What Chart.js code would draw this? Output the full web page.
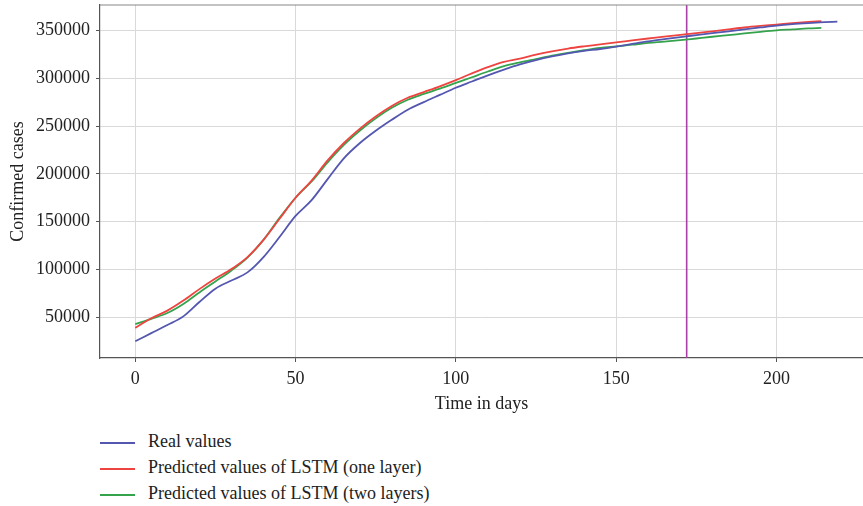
<!DOCTYPE html>
<html>
<head>
<meta charset="utf-8">
<script src="https://cdn.jsdelivr.net/npm/chart.js@4"></script>
<style>
  body { margin: 0; background: #fff; }
  #wrap { position: relative; width: 863px; height: 506px; }
  #legend { position: absolute; left: 100px; top: 428px; font-family: "Liberation Serif", serif; font-size: 18px; color: #222; }
  .row { height: 26px; line-height: 26px; white-space: nowrap; }
  .swatch { display: inline-block; width: 35px; height: 2px; vertical-align: middle; margin-right: 13px; }
</style>
</head>
<body>
<div id="wrap">
  <canvas id="Cnvs" width="863" height="420"></canvas>
  <div id="legend"></div>
</div>
<script>
var realDays = [0,5,10,15,20,25,30,35,40,45,50,55,60,65,70,75,80,85,90,95,100,105,110,115,120,125,130,135,140,145,150,155,160,165,170,175,180,185,190,195,200,205,210,215,219];
var realValues = [25000,33500,42000,51000,66000,80000,88500,97000,113000,134000,156000,172500,194500,216000,232000,245000,256500,267000,275000,282500,290000,296500,303000,309000,314500,319000,322800,326000,328500,330500,333000,335800,338500,340800,343000,345000,347000,349000,351000,353000,355000,356500,357600,358500,359200];

var predDays = [0,5,10,15,20,25,30,35,40,45,50,55,60,65,70,75,80,85,90,95,100,105,110,115,120,125,130,135,140,145,150,155,160,165,170,175,180,185,190,195,200,205,210,214];
var oneLayer = [39000,49000,57000,67500,79500,90500,100500,113000,131000,153000,175000,193000,214000,232000,247000,260000,271000,279500,285500,291500,298000,305000,311500,317000,320500,324500,328000,331000,333300,335300,337500,339500,341500,343500,345200,347000,349000,351000,353000,354600,356000,357500,358800,359600];
var twoLayers = [43000,48500,54500,64000,76000,87500,99000,112500,131000,154000,175000,192000,212000,230000,245000,258000,269000,277500,283500,289000,295000,301000,307000,312500,316500,320000,323500,326500,329200,331600,333300,335000,336800,338200,339700,341500,343300,345000,346800,348500,350000,351000,352000,352500];

var labels = ['Real values', 'Predicted values of LSTM (one layer)', 'Predicted values of LSTM (two layers)'];
var colors = ['#5457b0', '#ee4440', '#35a34c'];
var splitDay = 172;
var xTicks = [0, 50, 100, 150, 200];
var yTicks = [50000, 100000, 150000, 200000, 250000, 300000, 350000];

var yMin = 7500, yMax = 376500;

function pts(xs, ys) {
  return xs.map(function(x, i) { return {x: x, y: ys[i]}; });
}

var tickFont = {family: '"Liberation Serif", serif', size: 18};

var option = {
  responsive: false,
  animation: false,
  layout: {padding: {top: 5, right: 0, left: 0, bottom: 0}},
  plugins: {legend: {display: false}, tooltip: {enabled: false}},
  elements: {point: {radius: 0}},
  scales: {
    x: {
      type: 'linear', min: -11, max: 227,
      afterFit: function(s) { s.height = 62; s.paddingLeft = 0; s.paddingRight = 0; },
      afterBuildTicks: function(s) { s.ticks = xTicks.map(function(v) { return {value: v}; }); },
      ticks: {font: tickFont, color: '#222', padding: 6, maxRotation: 0, callback: function(v) { return String(v); }},
      grid: {color: '#d9d9d9', lineWidth: 1, tickLength: 4, tickColor: '#555'},
      border: {color: '#555', width: 1.2},
      title: {display: true, text: 'Time in days', font: tickFont, color: '#222', padding: {top: 0, bottom: 5}}
    },
    y: {
      type: 'linear', min: yMin, max: yMax,
      afterFit: function(s) { s.width = 100; s.paddingTop = 0; s.paddingBottom = 0; },
      afterBuildTicks: function(s) { s.ticks = yTicks.map(function(v) { return {value: v}; }); },
      ticks: {font: tickFont, color: '#222', padding: 6, callback: function(v) { return String(v); }},
      grid: {color: '#d9d9d9', lineWidth: 1, tickLength: 4, tickColor: '#555'},
      border: {color: '#555', width: 1.2},
      title: {display: true, text: 'Confirmed cases', font: tickFont, color: '#222', padding: {top: 7, bottom: 0}}
    }
  }
};

var topBorder = {
  id: 'topBorder',
  afterDraw: function(chart) {
    var c = chart.ctx, a = chart.chartArea;
    c.save();
    c.strokeStyle = '#888';
    c.lineWidth = 1.2;
    c.beginPath();
    c.moveTo(a.left, a.top);
    c.lineTo(a.right, a.top);
    c.stroke();
    c.restore();
  }
};

var currentChart = new Chart(document.getElementById('Cnvs'), {
  type: 'line',
  data: {
    datasets: [
      {label: labels[0], data: pts(realDays, realValues), borderColor: colors[0], borderWidth: 1.8, cubicInterpolationMode: 'monotone', fill: false},
      {label: labels[1], data: pts(predDays, oneLayer), borderColor: colors[1], borderWidth: 1.8, cubicInterpolationMode: 'monotone', fill: false},
      {label: labels[2], data: pts(predDays, twoLayers), borderColor: colors[2], borderWidth: 1.8, cubicInterpolationMode: 'monotone', fill: false},
      {label: 'split', data: [{x: splitDay, y: yMin}, {x: splitDay, y: yMax}], borderColor: '#a940a6', borderWidth: 1.6, fill: false}
    ]
  },
  options: option,
  plugins: [topBorder]
});

var legend = document.getElementById('legend');
labels.forEach(function(l, i) {
  var row = document.createElement('div');
  row.className = 'row';
  var sw = document.createElement('span');
  sw.className = 'swatch';
  sw.style.background = colors[i];
  row.appendChild(sw);
  row.appendChild(document.createTextNode(l));
  legend.appendChild(row);
});
</script>
</body>
</html>
